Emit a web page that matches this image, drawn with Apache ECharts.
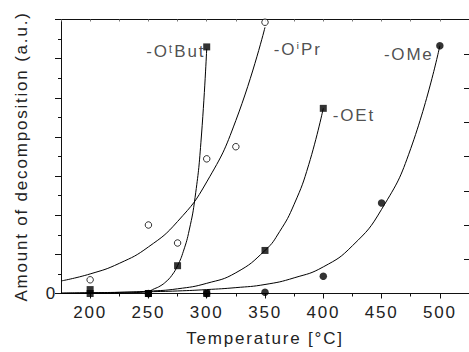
<!DOCTYPE html>
<html>
<head>
<meta charset="utf-8">
<script src="https://cdn.jsdelivr.net/npm/echarts@6/dist/echarts.min.js"></script>
<style>
  html, body { margin: 0; padding: 0; background: #fff; }
  #chart { width: 469px; height: 352px; }
  /* wide, evenly tracked lettering on every label */
  #chart text { letter-spacing: 1.8px; }
</style>
</head>
<body>
<div id="chart"></div>
<script>
// ---- measured points -------------------------------------------------
const butX = [200, 250, 275, 300];
const butY = [0.1, 0, 0.71, 6.3];

const prX = [200, 250, 275, 300, 325, 350];
const prY = [0.35, 1.75, 1.29, 3.44, 3.75, 6.93];

const etX = [200, 250, 300, 350, 400];
const etY = [0, 0, 0, 1.1, 4.73];

const meX = [250, 300, 350, 400, 450, 500];
const meY = [0, 0, 0.03, 0.44, 2.31, 6.33];

// ---- fitted curves (sampled along each drawn fit) ---------------------
const butFitX = [175, 200, 225, 240, 250, 255, 260, 265, 270, 275, 280, 285, 290, 295, 300];
const butFitY = [0, 0.001, 0.006, 0.025, 0.06, 0.12, 0.19, 0.30, 0.46, 0.71, 1.08, 1.62, 2.45, 3.85, 6.25];

const prFitX = [175, 200, 225, 250, 275, 300, 325, 350];
const prFitY = [0.32, 0.5, 0.77, 1.19, 1.84, 2.85, 4.42, 6.8];

const etFitX = [175, 200, 225, 250, 275, 300, 325, 350, 362.5, 375, 387.5, 400];
const etFitY = [0.007, 0.014, 0.029, 0.059, 0.12, 0.26, 0.53, 1.1, 1.58, 2.28, 3.29, 4.73];

const meFitX = [175, 200, 225, 250, 275, 300, 325, 350, 375, 400, 425, 450, 475, 500];
const meFitY = [0.01, 0.02, 0.03, 0.045, 0.065, 0.10, 0.15, 0.23, 0.40, 0.68, 1.22, 2.15, 3.7, 6.33];

// ---- axes ---------------------------------------------------------------
const xLabels = [200, 250, 300, 350, 400, 450, 500];
const xMinorTicks = [225, 275, 325, 375, 425, 475];
const yLabels = [0];

// ---- text ---------------------------------------------------------------
const butName = '-O\u1D57But';
const prName = '-O\u2071Pr';
const etName = '-OEt';
const meName = '-OMe';
const xTitle = 'Temperature [\u00B0C]';
const yTitle = 'Amount of decomposition (a.u.)';

const FONT = '"Liberation Sans", Arial, Helvetica, "DejaVu Sans", sans-serif';
const SIZE = 17;
const INK = '#222';

function pointLabel(text, position, distance, dy) {
  return {
    show: true, position, distance, offset: [0, dy],
    color: INK, fontFamily: FONT, fontSize: SIZE,
    formatter: () => text
  };
}

const pairs = (xs, ys) => xs.map((x, i) => [x, ys[i]]);

function fitLine(xs, ys) {
  return {
    type: 'line', data: pairs(xs, ys), showSymbol: false, symbol: 'none',
    smooth: 0.5, silent: true, z: 2,
    lineStyle: { color: '#000', width: 1 }
  };
}

function markers(xs, ys, symbol, filled, size, label) {
  const data = pairs(xs, ys).map((p, i) => (i === xs.length - 1 ? { value: p, label } : p));
  return {
    type: 'scatter', data, symbol, symbolSize: size, z: 3, silent: true,
    itemStyle: filled
      ? { color: '#000' }
      : { color: '#fff', borderColor: '#000', borderWidth: 1 }
  };
}

const axisColor = '#111';
const textStyle = { color: INK, fontFamily: FONT, fontSize: SIZE };

const option = {
  animation: false,
  backgroundColor: '#fff',
  grid: { left: 61, top: 19.5, width: 411.5, height: 276.5, containLabel: false },
  xAxis: [
    {
      type: 'value', position: 'bottom', min: 175, max: 525,
      axisLine: { show: true, lineStyle: { color: axisColor, width: 1 } },
      axisTick: { show: true, inside: false, length: 5, customValues: xLabels, lineStyle: { color: axisColor } },
      axisLabel: Object.assign({ customValues: xLabels, margin: 10 }, textStyle),
      splitLine: { show: false },
      name: xTitle, nameLocation: 'middle', nameGap: 36.5,
      nameTextStyle: textStyle
    },
    {
      type: 'value', position: 'bottom', min: 175, max: 525,
      axisLine: { show: false },
      axisTick: { show: true, inside: false, length: 3, customValues: xMinorTicks, lineStyle: { color: axisColor } },
      axisLabel: { show: false },
      splitLine: { show: false }
    },
    {
      type: 'value', position: 'top', min: 175, max: 525, interval: 25,
      axisLine: { show: true, lineStyle: { color: axisColor, width: 1 } },
      axisTick: { show: true, inside: true, length: 2, lineStyle: { color: '#777' } },
      axisLabel: { show: false },
      splitLine: { show: false }
    }
  ],
  yAxis: [
    {
      type: 'value', position: 'left', min: 0, max: 7, interval: 1,
      axisLine: { show: true, lineStyle: { color: axisColor, width: 1 } },
      axisTick: { show: true, inside: false, length: 6, lineStyle: { color: axisColor } },
      minorTick: { show: true, splitNumber: 2, length: 3, lineStyle: { color: axisColor } },
      axisLabel: Object.assign({ customValues: yLabels, margin: 4 }, textStyle),
      splitLine: { show: false },
      name: yTitle, nameLocation: 'middle', nameGap: 31,
      nameTextStyle: textStyle
    },
    {
      type: 'value', position: 'right', min: 0, max: 8, interval: 1,
      axisLine: { show: true, lineStyle: { color: axisColor, width: 1 } },
      axisTick: { show: true, inside: true, length: 5, lineStyle: { color: axisColor } },
      axisLabel: { show: false },
      splitLine: { show: false }
    }
  ],
  series: [
    fitLine(butFitX, butFitY),
    fitLine(prFitX, prFitY),
    fitLine(etFitX, etFitY),
    fitLine(meFitX, meFitY),
    markers(prX, prY, 'circle', false, 6.5, pointLabel(prName, 'right', 5, 27)),
    markers(meX, meY, 'circle', true, 7.5, pointLabel(meName, 'left', 2.5, 9)),
    markers(etX, etY, 'rect', true, 7, pointLabel(etName, 'right', 6, 7)),
    markers(butX, butY, 'rect', true, 7, pointLabel(butName, 'left', -2, 5))
  ]
};

const chart = echarts.init(document.getElementById('chart'), null, { renderer: 'svg' });
chart.setOption(option);
</script>
</body>
</html>
